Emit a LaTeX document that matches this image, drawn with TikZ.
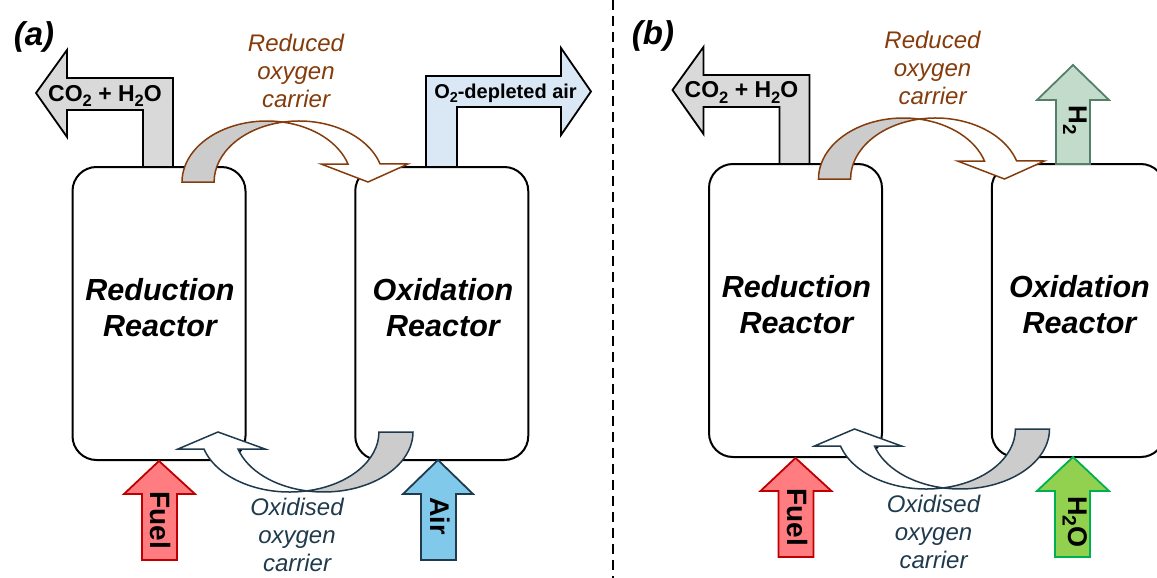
\documentclass[tikz,border=0pt]{standalone}
\usepackage{fontspec}
\setmainfont{Liberation Sans}
\newcommand\fsz[2]{\fontsize{#1}{#2}\selectfont}
\newcommand\sbs[1]{\raisebox{-0.22em}{\scalebox{0.72}{#1}}}
\definecolor{brn}{HTML}{843C0C}
\definecolor{nvy}{HTML}{1F3A4C}
\definecolor{grA}{HTML}{D9D9D9}
\definecolor{grB}{HTML}{CCCCCC}
\definecolor{ltb}{HTML}{DAE8F5}
\definecolor{fuelF}{HTML}{FF7C80}
\definecolor{fuelD}{HTML}{C00000}
\definecolor{airF}{HTML}{80C9EB}
\definecolor{hF}{HTML}{C3DBCB}
\definecolor{hD}{HTML}{54806A}
\definecolor{wF}{HTML}{92D050}
\definecolor{wD}{HTML}{00B050}
\tikzset{
  reactor/.style={draw=black, line width=2pt, rounded corners=24pt, minimum width=173pt, minimum height=293pt, inner sep=0pt},
  rtext/.style={font=\bfseries\itshape\fsz{30.5}{36}, align=center},
  blk/.style={line width=1.8pt, line join=miter, miter limit=10},
  curv/.style={line width=1.5pt, line join=miter, miter limit=10},
  redlab/.style={font=\itshape\fsz{24}{28.2}, text=brn, align=center},
  oxlab/.style={font=\itshape\fsz{24}{27.7}, text=nvy, align=center},
  arrtext/.style={font=\bfseries\fsz{28}{32}, rotate=-90},
  plabel/.style={font=\bfseries\itshape\fsz{33}{36}},
  divider/.style={line width=1.5pt, dash pattern=on 10pt off 6pt}
}
\newcommand\panelcore{%
  \node[reactor] (redR) at (159,313.5) {};
  \node[reactor] (oxR) at (441.75,313.5) {};
  \node[rtext] (redT) at (160,308) {Reduction\\Reactor};
  \node[rtext] (oxT) at (443,308) {Oxidation\\Reactor};
  % exhaust arrow of the reduction reactor
  \filldraw[blk, fill=grA] (36,93) -- (67,50) -- (67,78) -- (173,78) -- (173,167) -- (143,167) -- (143,110) -- (67,110) -- (67,137) -- cycle;
  \node[font=\bfseries\fsz{23}{28}] (co2) at (105,95.5) {CO\sbs{2} + H\sbs{2}O};
  % reduced oxygen carrier: curved arrow over the top
  \filldraw[curv, fill=grB, draw=brn] (182,182)
     arc[start angle=180, end angle=280.9, x radius=84.9, y radius=61]
     arc[start angle=259.1, end angle=180, x radius=84.9, y radius=61] -- cycle;
  \filldraw[curv, fill=white, draw=brn] (282.95,122.1)
     arc[start angle=259.1, end angle=342.8, x radius=84.9, y radius=61]
     -- (408,164) -- (368,182) -- (321,164) -- (348,164)
     arc[start angle=342.8, end angle=280.9, x radius=84.9, y radius=61] -- cycle;
  \node[redlab] (redL) at (296,71) {Reduced\\oxygen\\carrier};
  % oxidised oxygen carrier: curved arrow under the bottom
  \filldraw[curv, fill=grB, draw=nvy] (413,432)
     arc[start angle=0, end angle=101, x radius=89.3, y radius=60]
     arc[start angle=79, end angle=0, x radius=89.3, y radius=60] -- cycle;
  \filldraw[curv, fill=white, draw=nvy] (306.66,490.9)
     arc[start angle=79, end angle=163.5, x radius=89.3, y radius=60]
     -- (178,449) -- (218,432) -- (265,449) -- (238.07,449)
     arc[start angle=163.5, end angle=101, x radius=89.3, y radius=60] -- cycle;
  \node[oxlab] (oxL) at (297,535) {Oxidised\\oxygen\\carrier};
  % fuel inlet
  \filldraw[blk, fill=fuelF, draw=fuelD] (redR.south) -- (195,494) -- (177,494) -- (177,560) -- (142,560) -- (142,494) -- (124,494) -- cycle;
  \node[arrtext] (fuel) at (161,520) {Fuel};
}
\begin{document}
\begin{tikzpicture}[x=1pt,y=-1pt]
  \useasboundingbox (0,0) rectangle (1157,578);
  \clip (0,0) rectangle (1157,578);
  % ---------- panel (a)
  \begin{scope}[name prefix=a-]
    \panelcore
    \filldraw[blk, fill=ltb] (426,167) -- (426,76) -- (561,76) -- (561,48) -- (591,91.5) -- (561,135) -- (561,107) -- (457,107) -- (457,167) -- cycle;
    \node[font=\bfseries\fsz{20}{24}] (o2) at (505.5,93.5) {O\sbs{2}-depleted air};
    \filldraw[blk, fill=airF, draw=nvy] (438,460) -- (473,494) -- (456,494) -- (456,560) -- (421,560) -- (421,494) -- (403,494) -- cycle;
    \node[arrtext, font=\bfseries\fsz{27}{32}] (air) at (440,516) {Air};
    \node[plabel] (lab) at (34,37) {(a)};
  \end{scope}
  % ---------- divider
  \coordinate (dtop) at (613,0);
  \coordinate (dbot) at (613,578);
  \draw[divider] (dtop) -- (dbot);
  % ---------- panel (b)
  \begin{scope}[name prefix=b-, shift={(636.5,-3)}]
    \panelcore
  \end{scope}
  \begin{scope}[name prefix=b-]
    \filldraw[blk, fill=hF, draw=hD] (1056,164) -- (1056,100) -- (1037,100) -- (1073,65) -- (1109,100) -- (1090,100) -- (1090,164) -- cycle;
    \node[arrtext, font=\bfseries\fsz{26}{30}] (h2) at (1075,120) {H\sbs{2}};
    \filldraw[blk, fill=wF, draw=wD] (1073,457) -- (1109,491) -- (1090,491) -- (1090,557) -- (1055,557) -- (1055,491) -- (1037,491) -- cycle;
    \node[arrtext, font=\bfseries\fsz{27}{32}] (h2o) at (1075,522) {H\sbs{2}O};
    \node[plabel] (lab) at (653,36) {(b)};
  \end{scope}
\end{tikzpicture}
\end{document}
